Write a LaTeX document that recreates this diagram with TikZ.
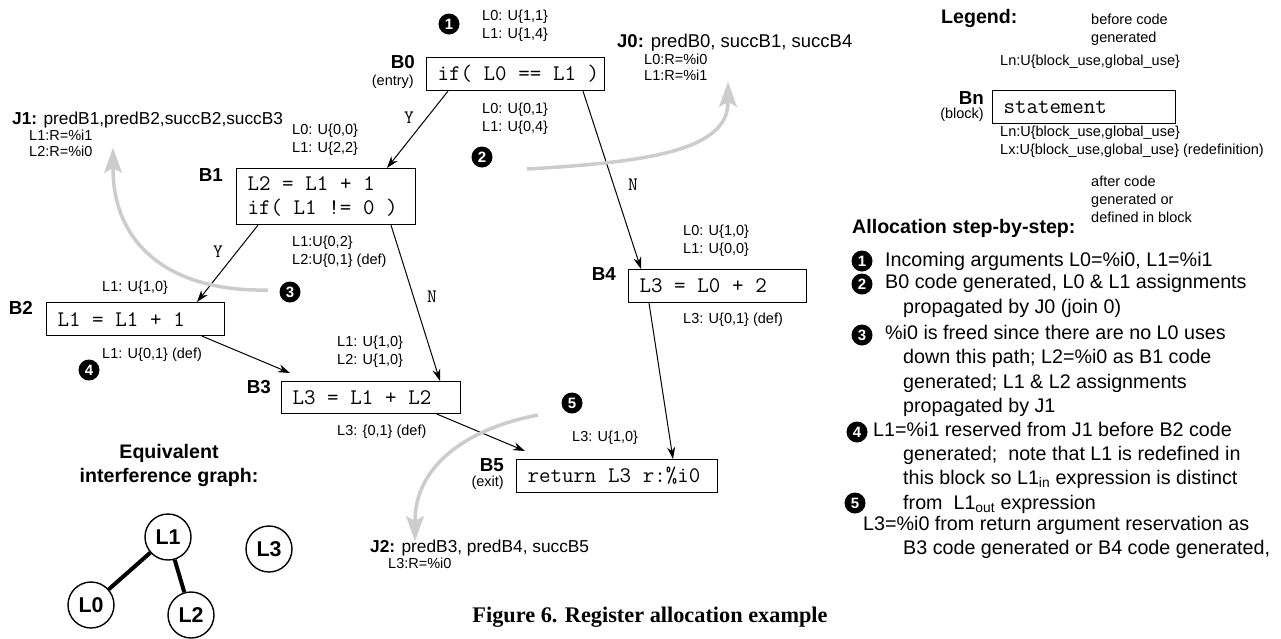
\documentclass[tikz,border=0pt]{standalone}
\usepackage{fontspec}
\setmainfont{Liberation Sans}
\newfontfamily\myCaptionFont{Liberation Serif}
\usetikzlibrary{arrows.meta, positioning}
\newlength{\myrulewidth}
\setlength{\myrulewidth}{1.1pt}
\newlength{\myMarkSize}
\setlength{\myMarkSize}{21pt}
\definecolor{myhintgray}{RGB}{204,204,204}
\newcommand{\myNoteSize}{\fontsize{14.5}{18}\selectfont}
\newcommand{\myRegSize}{\fontsize{14.5}{15.5}\selectfont}
\newcommand{\myJoinSize}{\fontsize{17.3}{20}\selectfont}
\newcommand{\myCodeSize}{\fontsize{22.3}{24}\selectfont}
\newcommand{\myBranchSize}{\fontsize{19}{19}\selectfont}
\newcommand{\myNameSize}{\fontsize{18.8}{20}\selectfont}
\newcommand{\myHeadSize}{\fontsize{19.6}{24}\selectfont}
\newcommand{\myStepSize}{\fontsize{19.7}{24.3}\selectfont}
\newcommand{\myVarSize}{\fontsize{21.4}{22}\selectfont}
\newcommand{\myMarkFont}{\fontsize{15}{15}\selectfont}
\newcommand{\myCaptionSize}{\fontsize{22.3}{24}\selectfont}
% one full typewriter space
\newcommand{\mySp}{\hspace*{0.525em}}

\begin{document}
\begin{tikzpicture}[x=1pt, y=-1pt,
                    my block/.style={
                      draw, line width=\myrulewidth, anchor=north west,
                      inner xsep=11pt, inner ysep=0pt, align=left,
                      font=\myCodeSize\ttfamily},
                    my name/.style={anchor=east, inner sep=0pt,
                      font=\myNameSize\bfseries},
                    my kind/.style={anchor=east, inner sep=0pt,
                      font=\myNoteSize},
                    my note/.style={anchor=west, inner sep=0pt, align=left,
                      font=\myNoteSize},
                    my join/.style={anchor=west, inner sep=0pt,
                      font=\myJoinSize},
                    my regs/.style={inner sep=0pt, align=left,
                      font=\myRegSize},
                    my mark/.style={circle, fill=black, text=white,
                      inner sep=0pt, minimum size=\myMarkSize,
                      font=\myMarkFont\bfseries},
                    my branch/.style={inner sep=0pt,
                      font=\myBranchSize\ttfamily},
                    my arrow/.style={
                      -{Stealth[length=12pt, width=8pt]}, line width=1pt},
                    my hint/.style={
                      -{Stealth[length=25pt, width=18pt, inset=5pt,
                                line width=0.1pt]},
                      line width=3.5pt, draw=myhintgray},
                    my head/.style={inner sep=0pt, font=\myHeadSize\bfseries},
                    my text/.style={anchor=west, inner sep=0pt, align=left,
                      font=\myStepSize},
                    my var/.style={circle, draw, line width=1.4pt,
                      minimum size=46pt, inner sep=0pt,
                      font=\myVarSize\bfseries},
                    my edge/.style={line width=4pt}]
\useasboundingbox (0,0) rectangle (1281,638);

% blocks of the flow graph
\node[my block, text width=156pt, minimum height=33pt] (b0) at (426,57)
  {if(\mySp L0\mySp==\mySp L1\mySp)};
\node[my block, text width=157pt, minimum height=56pt] (b1) at (236,168)
  {L2\mySp=\mySp L1\mySp+\mySp1\\if(\mySp L1\mySp!=\mySp0\mySp)};
\node[my block, text width=156pt, minimum height=33pt] (b2) at (46,302)
  {L1\mySp=\mySp L1\mySp+\mySp1};
\node[my block, text width=157pt, minimum height=32pt] (b3) at (281,381)
  {L3\mySp=\mySp L1\mySp+\mySp L2};
\node[my block, text width=156pt, minimum height=33pt] (b4) at (628,269)
  {L3\mySp=\mySp L0\mySp+\mySp2};
\node[my block, text width=179pt, minimum height=33pt] (b5) at (516,459)
  {return\mySp L3\mySp r:\%i0};

\node[my name] (b0name) at (415,62)  {B0};
\node[my kind] (b0kind) at (414,82)  {(entry)};
\node[my name] (b1name) at (223,175) {B1};
\node[my name] (b2name) at (33,308)  {B2};
\node[my name] (b3name) at (271,387) {B3};
\node[my name] (b4name) at (616,274) {B4};
\node[my name] (b5name) at (504,465) {B5};
\node[my kind] (b5kind) at (504,483) {(exit)};

% use counts before and after each block
\node[my note] (b0in)  at (482,26)    {L0: U\{1,1\}\\L1: U\{1,4\}};
\node[my note] (b0out) at (482,118.5) {L0: U\{0,1\}\\L1: U\{0,4\}};
\node[my note] (b1in)  at (292,140)   {L0: U\{0,0\}\\L1: U\{2,2\}};
\node[my note] (b1out) at (292,252)   {L1:U\{0,2\}\\L2:U\{0,1\} (def)};
\node[my note] (b2in)  at (102,288)   {L1: U\{1,0\}};
\node[my note] (b2out) at (102,355)   {L1: U\{0,1\} (def)};
\node[my note] (b3in)  at (337,351.5) {L1: U\{1,0\}\\L2: U\{1,0\}};
\node[my note] (b3out) at (337,432)   {L3: \{0,1\} (def)};
\node[my note] (b4in)  at (683,240.5) {L0: U\{1,0\}\\L1: U\{0,0\}};
\node[my note] (b4out) at (683,320)   {L3: U\{0,1\} (def)};
\node[my note] (b5in)  at (572,438)   {L3: U\{1,0\}};

% control flow
\draw[my arrow] ([xshift=22pt]b0.south west) -- ([xshift=151pt]b1.north west);
\draw[my arrow] ([xshift=157pt]b0.south west) -- ([xshift=13pt]b4.north west);
\draw[my arrow] ([xshift=22pt]b1.south west) -- ([xshift=151pt]b2.north west);
\draw[my arrow] ([xshift=155pt]b1.south west) -- ([xshift=159pt]b3.north west);
\draw[my arrow] ([xshift=156pt]b2.south west) --
                ([shift={(9pt,8pt)}]b3.north west);
\draw[my arrow] ([xshift=156pt]b3.south west) --
                ([shift={(9pt,8pt)}]b5.north west);
\draw[my arrow] ([xshift=21pt]b4.south west) -- ([xshift=157pt]b5.north west);

\node[my branch] (b0yes) at (409,118) {Y};
\node[my branch] (b0no)  at (633,185) {N};
\node[my branch] (b1yes) at (218,252) {Y};
\node[my branch] (b1no)  at (432,297) {N};

% joins
\node[my join, font=\fontsize{18.5}{20}\selectfont] (j0) at (617,43)
  {\textbf{J0:} predB0, succB1, succB4};
\node[my regs, below right=2pt and 27pt of j0.south west] (j0regs)
  {L0:R=\%i0\\L1:R=\%i1};
\node[my join] (j1) at (12,120)  {\textbf{J1:} predB1,predB2,succB2,succB3};
\node[my regs, below right=2pt and 17pt of j1.south west] (j1regs)
  {L1:R=\%i1\\L2:R=\%i0};
\node[my join] (j2) at (370,548) {\textbf{J2:} predB3, predB4, succB5};
\node[my regs, below right=2pt and 18pt of j2.south west] (j2regs)
  {L3:R=\%i0};

% allocation steps in the graph
\node[my mark] (m1) at (449,24)  {1};
\node[my mark] (m2) at (482,157) {2};
\node[my mark] (m3) at (290,292) {3};
\node[my mark] (m4) at (89,370)  {4};
\node[my mark] (m5) at (572,403) {5};

\coordinate (h0s) at (527,169);
\coordinate (h0e) at (728,82);
\coordinate (h1s) at (268,290);
\coordinate (h1e) at (113,148);
\coordinate (h2s) at (538,415);
\coordinate (h2e) at (415,541);
\draw[my hint] (h0s) .. controls (650,162) and (728,150) .. (h0e);
\draw[my hint] (h1s) .. controls (170,292) and (113,245) .. (h1e);
\draw[my hint] (h2s) .. controls (460,430) and (415,470) .. (h2e);

% legend
\node[my head, anchor=west] (legend) at (941,18) {Legend:};
\node[my note] (legbefore) at (1091,29.5) {before code\\generated};
\node[my note] (legin) at (1000,62) {Ln:U\{block\_use,global\_use\}};
\node[my block, text width=161pt, minimum height=33pt] (bn) at (992,90)
  {statement};
\node[my name] (bnname) at (984,98)  {Bn};
\node[my kind] (bnkind) at (984,115) {(block)};
\node[my note] (legout) at (1000,141.5)
  {Ln:U\{block\_use,global\_use\}\\
   Lx:U\{block\_use,global\_use\} (redefinition)};
\node[my note] (legafter) at (1091,199.5)
  {after code\\generated or\\defined in block};

% allocation step-by-step
\node[my head, anchor=west] (alloc) at (852,228) {Allocation step-by-step:};
\node[my mark] (s1) at (862,261) {1};
\node[my text] (t1) at (885,261) {Incoming arguments L0=\%i0, L1=\%i1};
\node[my mark] (s2) at (862,284) {2};
\node[my text] (t2) at (885,296)
  {B0 code generated, L0 \& L1 assignments\\
   \hspace*{18pt}propagated by J0 (join 0)};
\node[my mark] (s3) at (862,335) {3};
\node[my text] (t3) at (885,371)
  {\%i0 is freed since there are no L0 uses\\
   \hspace*{18pt}down this path; L2=\%i0 as B1 code\\
   \hspace*{18pt}generated; L1 \& L2 assignments\\
   \hspace*{18pt}propagated by J1};
\node[my mark] (s4) at (857,432) {4};
\node[my text] (t4) at (873,467.5)
  {L1=\%i1 reserved from J1 before B2 code\\
   \hspace*{30pt}generated;\ \ note that L1 is redefined in\\
   \hspace*{30pt}this block so L1\textsubscript{in} expression is distinct\\
   \hspace*{30pt}from\ \ L1\textsubscript{out} expression};
\node[my mark] (s5) at (855,503) {5};
\node[my text] (t5) at (863,537.5)
  {L3=\%i0 from return argument reservation as\\
   \hspace*{40pt}B3 code generated or B4 code generated,};

% interference graph
\node[my head, align=center] (igraph) at (169,465)
  {Equivalent\\interference graph:};
\node[my var] (v1) at (168,537) {L1};
\node[my var] (v0) at (91,605)  {L0};
\node[my var] (v2) at (191,615) {L2};
\node[my var] (v3) at (269,549) {L3};
\draw[my edge] (v1) -- (v0);
\draw[my edge] (v1) -- (v2);

\node[inner sep=0pt, font=\myCaptionSize\myCaptionFont\bfseries] (caption)
  at (650,617) {Figure 6. Register allocation example};
\end{tikzpicture}
\end{document}
